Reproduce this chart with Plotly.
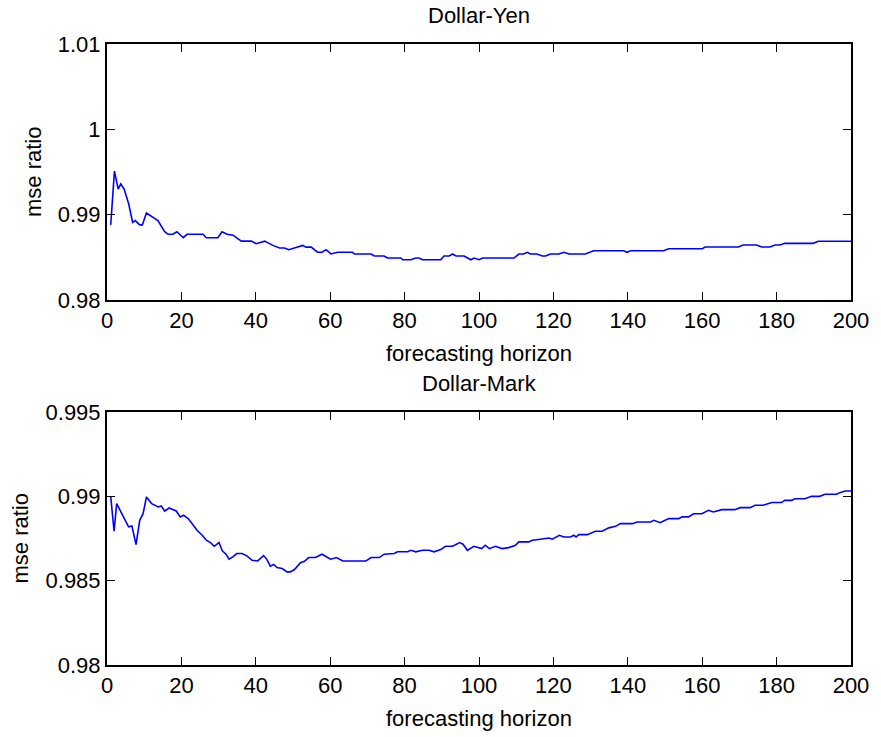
import plotly.graph_objects as go

# ---- data ----
yen_h = [1, 2, 3, 3.7, 4.6, 5.8, 6.9, 7.6, 8.8, 9.5, 10.6, 12, 13.7, 15.5, 16.4, 17.7, 18.8,
         20.5, 21.5, 25.8, 26.7, 29.8, 30.9, 32.3, 33.9, 34.8, 36.1, 38.8, 40.1, 42.4, 44.6,
         46.4, 47.7, 48.9, 50.8, 52.6, 53.5, 54.9, 56.6, 57.8, 58.9, 60.2, 62, 66, 66.5, 71,
         71.9, 74.5, 75.4, 79, 79.5, 81.7, 83, 83.9, 84.8, 89.7, 90.6, 92, 92.9, 93.8, 96,
         97.8, 98.7, 100, 101, 109.4, 110.7, 112, 113, 113.8, 115.6, 117, 117.9, 119.2, 121.5,
         122.8, 124.2, 128.6, 130.8, 138.9, 139.8, 140.7, 149.6, 151, 160, 160.8, 169.7, 171,
         174.6, 176, 178.2, 179.6, 180.9, 182.2, 189.8, 191.2, 200]
yen_mse = [0.9888, 0.9951, 0.9930, 0.9936, 0.9930, 0.9913, 0.9891, 0.9893, 0.9888, 0.9888,
           0.9902, 0.9898, 0.9893, 0.9880, 0.9877, 0.9877, 0.9880, 0.9873, 0.9877, 0.9877,
           0.9873, 0.9873, 0.9880, 0.9877, 0.9876, 0.9873, 0.9869, 0.9869, 0.9866, 0.9869,
           0.9864, 0.9861, 0.9861, 0.9859, 0.9862, 0.9864, 0.9862, 0.9862, 0.9856, 0.9856,
           0.9859, 0.9854, 0.9856, 0.9856, 0.98539, 0.98539, 0.98516, 0.98516, 0.98492,
           0.98492, 0.98472, 0.98472, 0.98492, 0.98492, 0.98472, 0.98472, 0.98516, 0.98516,
           0.98539, 0.98516, 0.98516, 0.98472, 0.98492, 0.98472, 0.98492, 0.98492, 0.98539,
           0.98539, 0.98559, 0.98539, 0.98539, 0.98516, 0.98516, 0.98539, 0.98539, 0.98559,
           0.98539, 0.98539, 0.98578, 0.98578, 0.98559, 0.98578, 0.98578, 0.98601, 0.98601,
           0.98621, 0.98621, 0.98644, 0.98644, 0.98621, 0.98621, 0.98644, 0.98644, 0.98664,
           0.98664, 0.98688, 0.98688]

mark_h = [1, 1.9, 2.6, 3.5, 4.6, 5.8, 6.7, 7.8, 8.8, 9.7, 10.6, 12, 13.8, 14.6, 15.5, 16.7,
          18.6, 19.7, 20.6, 21.8, 22.9, 24.2, 25.6, 26.7, 27.9, 28.8, 30.1, 31, 32, 32.8, 33.8,
          34.9, 36.3, 37.6, 39, 40.5, 42.1, 43, 43.9, 44.8, 45.7, 47.1, 48.4, 49.3, 50.4, 52,
          53.1, 54.2, 56, 57.8, 60.1, 61.7, 63.4, 69.6, 71, 73.2, 74.5, 77.2, 78.1, 80.8, 81.7,
          83, 84.8, 86.6, 87.9, 89.7, 91, 92.9, 94.8, 95.7, 96.9, 98.6, 100.7, 101.7, 102.8,
          104.4, 106.2, 108, 109.8, 110.7, 113.4, 114.3, 116.5, 118.8, 119.7, 121.6, 122.8,
          124.6, 125.5, 126.1, 126.8, 129.1, 131.3, 133.1, 134.9, 136.7, 138, 141.2, 142.5,
          146.1, 147, 148.7, 151, 153.7, 154.6, 156.3, 157.7, 159.9, 161.7, 163, 165.3, 168.8,
          170.2, 172.9, 174.2, 176.4, 178.7, 181.3, 182.2, 184, 184.9, 187.6, 189.4, 191.6,
          193, 196.1, 197, 198.4, 200]
mark_mse = [0.9900, 0.98793, 0.98957, 0.98917, 0.98878, 0.98819, 0.98824, 0.98714, 0.98858,
            0.98897, 0.98996, 0.98957, 0.98937, 0.98943, 0.98913, 0.98931, 0.98913, 0.98878,
            0.98888, 0.98868, 0.98838, 0.98799, 0.98769, 0.98740, 0.98724, 0.98704, 0.98726,
            0.98677, 0.98657, 0.98627, 0.98641, 0.98661, 0.98661, 0.98647, 0.98621, 0.98617,
            0.98649, 0.98625, 0.98586, 0.98596, 0.98578, 0.98572, 0.98552, 0.98552, 0.98566,
            0.98606, 0.98615, 0.98637, 0.98637, 0.98657, 0.98627, 0.98637, 0.98617, 0.98617,
            0.98637, 0.98637, 0.98657, 0.98661, 0.98671, 0.98671, 0.98680, 0.98671, 0.98680,
            0.98680, 0.98671, 0.98684, 0.98704, 0.98704, 0.98726, 0.98716, 0.98680, 0.98704,
            0.98690, 0.98710, 0.98690, 0.98704, 0.98690, 0.98696, 0.98710, 0.98730, 0.98730,
            0.98740, 0.98746, 0.98753, 0.98746, 0.98769, 0.98759, 0.98759, 0.98769, 0.98759,
            0.98773, 0.98773, 0.98793, 0.98793, 0.98813, 0.98822, 0.98838, 0.98838, 0.98848,
            0.98848, 0.98858, 0.98844, 0.98868, 0.98868, 0.98878, 0.98878, 0.98897, 0.98897,
            0.98917, 0.98907, 0.98921, 0.98921, 0.98933, 0.98933, 0.98947, 0.98947, 0.98963,
            0.98963, 0.98976, 0.98976, 0.98986, 0.98986, 0.99000, 0.99000, 0.99012, 0.99012,
            0.99022, 0.99032, 0.99032]

x_ticks = [0, 20, 40, 60, 80, 100, 120, 140, 160, 180, 200]
x_tick_labels = [str(v) for v in x_ticks]
yen_ticks = [0.98, 0.99, 1.0, 1.01]
yen_tick_labels = ["0.98", "0.99", "1", "1.01"]
mark_ticks = [0.98, 0.985, 0.99, 0.995]
mark_tick_labels = ["0.98", "0.985", "0.99", "0.995"]

titles = ["Dollar-Yen", "Dollar-Mark"]
x_title = "forecasting horizon"
y_title = "mse ratio"

FONT = "Liberation Sans"
FS = 22

fig = go.Figure()
fig.add_trace(go.Scatter(x=yen_h, y=yen_mse, mode="lines",
                         line=dict(color="#0000ff", width=1.6), xaxis="x", yaxis="y",
                         showlegend=False))
fig.add_trace(go.Scatter(x=mark_h, y=mark_mse, mode="lines",
                         line=dict(color="#0000ff", width=1.6), xaxis="x2", yaxis="y2",
                         showlegend=False))

axis_common = dict(showline=True, linecolor="black", linewidth=2, mirror="allticks",
                   ticks="inside", ticklen=8, tickwidth=1.3, tickcolor="black",
                   showgrid=False, zeroline=False,
                   tickfont=dict(family=FONT, size=FS, color="black"))

W, H = 881, 737
L, R, T, B = 107, 28, 44, 72
ph = H - T - B
top_dom = [(665 - 300) / ph, 1.0]
bot_dom = [0.0, (665 - 412) / ph]

fig.update_layout(
    width=W, height=H, margin=dict(l=L, r=R, t=T, b=B),
    paper_bgcolor="white", plot_bgcolor="white",
    xaxis=dict(domain=[0, 1], range=[0, 200], tickvals=x_ticks, ticktext=x_tick_labels,
               anchor="y", **axis_common),
    yaxis=dict(domain=top_dom, range=[0.98, 1.01], tickvals=yen_ticks,
               ticktext=yen_tick_labels, anchor="x", **axis_common),
    xaxis2=dict(domain=[0, 1], range=[0, 200], tickvals=x_ticks, ticktext=x_tick_labels,
                anchor="y2", **axis_common),
    yaxis2=dict(domain=bot_dom, range=[0.98, 0.995], tickvals=mark_ticks,
                ticktext=mark_tick_labels, anchor="x2", **axis_common),
)

anns = []
tfont = dict(family=FONT, size=FS, color="black")
for yref, xref, title, ylab_shift in [("y domain", "x domain", titles[0], -74),
                                       ("y2 domain", "x2 domain", titles[1], -87)]:
    anns.append(dict(text=title, xref=xref, yref=yref, x=0.5, y=1, yshift=29,
                     showarrow=False, font=tfont, xanchor="center", yanchor="middle"))
    anns.append(dict(text=x_title, xref=xref, yref=yref, x=0.5, y=0, yshift=-53,
                     showarrow=False, font=tfont, xanchor="center", yanchor="middle"))
    anns.append(dict(text=y_title, xref=xref, yref=yref, x=0, y=0.5, xshift=ylab_shift,
                     showarrow=False, font=tfont, textangle=-90,
                     xanchor="center", yanchor="middle"))
fig.update_layout(annotations=anns)

fig.write_html("out.html")
